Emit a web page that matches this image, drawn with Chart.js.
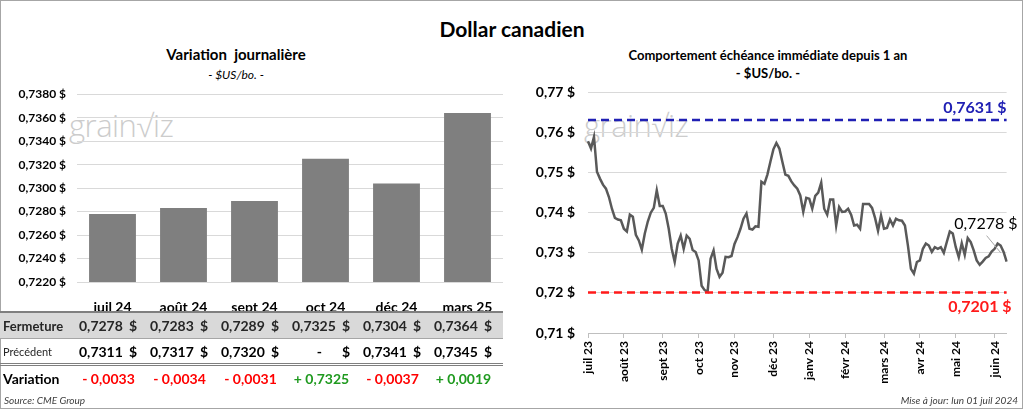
<!DOCTYPE html>
<html lang="fr">
<head>
<meta charset="utf-8">
<title>Dollar canadien</title>
<script src="https://cdn.jsdelivr.net/npm/chart.js@4.4.1/dist/chart.umd.min.js"></script>
<style>
  html, body { margin: 0; padding: 0; background: #fff; }
  body { width: 1024px; height: 410px; overflow: hidden; position: relative; font-family: Lato, "Open Sans", sans-serif; color: #000; }
  #frame { position: absolute; left: 0; top: 0; width: 1021px; height: 407px; border: 1px solid #a6a6a6; }
  .txt { position: absolute; white-space: nowrap; transform: translate(-50%, -50%); }
  .mark { position: absolute; white-space: nowrap; color: #cccccc; font-family: "Open Sans", sans-serif; font-weight: 300; font-size: 31px; letter-spacing: -0.5px; }
  canvas { position: absolute; }
  #table { position: absolute; left: 0; top: 311px; width: 503px; font-size: 14px; }
  .row { display: flex; align-items: center; }
  .row .lab { width: 77px; padding-left: 3px; box-sizing: border-box; }
  .row .cell { width: 71px; display: flex; justify-content: flex-end; box-sizing: border-box; padding-right: 11px; }
  .row .cell .num { margin-right: 6px; }
  #rowClose { border-top: 2px solid #7f7f7f; height: 25px; background: #d9d9d9; border-bottom: 1px solid #a6a6a6; font-weight: bold; color: #262626; }
  #rowClose .lab { font-size: 13px; }
  #rowPrev { height: 24px; font-weight: bold; border-bottom: 3px double #7f7f7f; }
  #rowPrev .lab { font-weight: normal; font-size: 11px; color: #262626; }
  #rowVar { height: 24px; font-weight: bold; font-size: 14px; }
  #rowVar .cell { justify-content: center; padding-right: 8px; }
  .foot { position: absolute; top: 394px; font-style: italic; font-size: 10px; color: #404040; }
</style>
</head>
<body>
<div id="frame"></div>

<div class="txt" style="left:512px; top:28px; font-size:21px; font-weight:bold;">Dollar canadien</div>
<div class="txt" style="left:236px; top:54px; font-size:15px; font-weight:bold;">Variation&nbsp; journalière</div>
<div class="txt" style="left:236px; top:74px; font-size:12px; font-style:italic;">- $US/bo. -</div>
<div class="txt" style="left:768px; top:55px; font-size:13px; font-weight:bold;">Comportement échéance immédiate depuis 1 an</div>
<div class="txt" style="left:768px; top:73px; font-size:13px; font-weight:bold;">- $US/bo. -</div>

<div class="mark" style="left:69px; top:104px;">grain√iz</div>
<div class="mark" style="left:584px; top:104px;">grain√iz</div>

<canvas id="barChart" width="512" height="237" style="left:0; top:76px;"></canvas>
<canvas id="lineChart" width="512" height="324" style="left:512px; top:71px;"></canvas>

<div id="table">
  <div class="row" id="rowClose"><div class="lab">Fermeture</div></div>
  <div class="row" id="rowPrev"><div class="lab">Précédent</div></div>
  <div class="row" id="rowVar"><div class="lab">Variation</div></div>
</div>

<div class="foot" style="left:4px;">Source: CME Group</div>
<div class="foot" style="right:6px;">Mise à jour: lun 01 juil 2024</div>

<script>
// Variation journalière (échéances)
const contracts = ['juil 24', 'août 24', 'sept 24', 'oct 24', 'déc 24', 'mars 25'];
const closeValues = [0.7278, 0.7283, 0.7289, 0.7325, 0.7304, 0.7364];
const prevValues = [0.7311, 0.7317, 0.7320, null, 0.7341, 0.7345];
const variations = [-0.0033, -0.0034, -0.0031, 0.7325, -0.0037, 0.0019];
const barAxisMin = 0.722;
const barAxisMax = 0.738;
const barAxisStep = 0.002;

// Comportement échéance immédiate depuis 1 an
const monthLabels = ['juil 23', 'août 23', 'sept 23', 'oct 23', 'nov 23', 'déc 23',
  'janv 24', 'févr 24', 'mars 24', 'avr 24', 'mai 24', 'juin 24'];
const monthStarts = [0, 12, 25, 37, 49, 62, 74, 86, 99, 111, 123, 136];
const lineValues = [
  0.7578, 0.7560, 0.7589, 0.7502, 0.7485, 0.7470, 0.7460, 0.7439, 0.7410, 0.7387,
  0.7383, 0.7381, 0.7360, 0.7353, 0.7395, 0.7390, 0.7345, 0.7331, 0.7308, 0.7348,
  0.7378, 0.7400, 0.7412, 0.7456, 0.7417, 0.7417, 0.7398, 0.7360, 0.7310, 0.7277,
  0.7323, 0.7343, 0.7310, 0.7343, 0.7335, 0.7307, 0.7302, 0.7281, 0.7218, 0.7207,
  0.7203, 0.7285, 0.7306, 0.7260, 0.7240, 0.7250, 0.7290, 0.7289, 0.7292, 0.7322,
  0.7339, 0.7360, 0.7385, 0.7398, 0.7360, 0.7358, 0.7366, 0.7365, 0.7477, 0.7472,
  0.7495, 0.7527, 0.7558, 0.7574, 0.7560, 0.7527, 0.7495, 0.7492, 0.7478, 0.7468,
  0.7460, 0.7443, 0.7402, 0.7437, 0.7435, 0.7410, 0.7442, 0.7450, 0.7475, 0.7410,
  0.7395, 0.7433, 0.7433, 0.7368, 0.7414, 0.7402, 0.7403, 0.7410, 0.7395, 0.7368,
  0.7370, 0.7360, 0.7422, 0.7422, 0.7422, 0.7412, 0.7387, 0.7355, 0.7393, 0.7360,
  0.7362, 0.7383, 0.7368, 0.7385, 0.7381, 0.7380, 0.7368, 0.7318, 0.7260, 0.7248,
  0.7277, 0.7281, 0.7310, 0.7323, 0.7318, 0.7302, 0.7314, 0.7310, 0.7314, 0.7300,
  0.7327, 0.7353, 0.7348, 0.7314, 0.7289, 0.7324, 0.7295, 0.7337, 0.7327, 0.7306,
  0.7281, 0.7270, 0.7278, 0.7287, 0.7291, 0.7303, 0.7310, 0.7323, 0.7318, 0.7302,
  0.7278
];
const yearHigh = 0.7631;
const yearLow = 0.7201;
const lineAxisMin = 0.71;
const lineAxisMax = 0.77;
const lineAxisStep = 0.01;

const FONT = 'Lato, "Open Sans", sans-serif';

function fmt(v, digits) {
  return v.toFixed(digits).replace('.', ',');
}

// Table rows
function addCells(rowId, values, render) {
  const row = document.getElementById(rowId);
  values.forEach(v => {
    const cell = document.createElement('div');
    cell.className = 'cell';
    cell.innerHTML = render(v);
    row.appendChild(cell);
  });
}

addCells('rowClose', closeValues, v => `<span class="num">${fmt(v, 4)}</span><span>$</span>`);
addCells('rowPrev', prevValues, v => v === null
  ? `<span class="num" style="margin-right:20px">-</span><span>$</span>`
  : `<span class="num">${fmt(v, 4)}</span><span>$</span>`);
addCells('rowVar', variations, v => {
  const color = v < 0 ? '#ff0000' : '#1f9a1f';
  const sign = v < 0 ? '- ' : '+ ';
  return `<span style="color:${color}">${sign}${fmt(Math.abs(v), 4)}</span>`;
});

// Bar chart
new Chart(document.getElementById('barChart'), {
  type: 'bar',
  data: {
    labels: contracts,
    datasets: [{
      data: closeValues,
      backgroundColor: '#7f7f7f',
      borderWidth: 0,
      categoryPercentage: 1,
      barPercentage: 0.66
    }]
  },
  options: {
    responsive: false,
    animation: false,
    layout: { padding: { left: 0, right: 9, top: 0, bottom: 0 } },
    plugins: { legend: { display: false }, tooltip: { enabled: false } },
    scales: {
      x: {
        grid: { display: false },
        border: { display: false },
        ticks: { color: '#000', font: { family: FONT, size: 14, weight: 'bold' }, padding: 9 },
        afterFit: s => { s.height = 31; }
      },
      y: {
        min: barAxisMin,
        max: barAxisMax,
        grid: { color: '#d9d9d9', drawTicks: false },
        border: { display: false },
        ticks: {
          stepSize: barAxisStep,
          padding: 11,
          color: '#000',
          font: { family: FONT, size: 12, weight: 'bold' },
          callback: v => fmt(v, 4) + ' $'
        },
        afterFit: s => { s.width = 77; }
      }
    }
  }
});

// Line chart
const dayLabels = lineValues.map((v, i) => {
  const k = monthStarts.indexOf(i);
  return k >= 0 ? monthLabels[k] : '';
});

const levelLines = {
  id: 'levelLines',
  afterDatasetsDraw(chart) {
    const { ctx, chartArea, scales: { x, y } } = chart;
    ctx.save();
    ctx.lineWidth = 2.5;
    ctx.setLineDash([8, 5]);
    [[yearHigh, '#2020b4'], [yearLow, '#ff1a1a']].forEach(([v, c]) => {
      const py = y.getPixelForValue(v);
      ctx.strokeStyle = c;
      ctx.beginPath();
      ctx.moveTo(chartArea.left, py);
      ctx.lineTo(chartArea.right, py);
      ctx.stroke();
    });
    ctx.setLineDash([]);
    ctx.font = 'bold 16px ' + FONT;
    ctx.textAlign = 'right';
    ctx.textBaseline = 'middle';
    ctx.fillStyle = '#2020b4';
    ctx.fillText(fmt(yearHigh, 4) + ' $', chartArea.right, y.getPixelForValue(yearHigh) - 12);
    ctx.fillStyle = '#ff1a1a';
    ctx.fillText(fmt(yearLow, 4) + ' $', chartArea.right + 5, y.getPixelForValue(yearLow) + 14);

    // last value label
    const last = lineValues.length - 1;
    const px = x.getPixelForValue(last);
    const py = y.getPixelForValue(lineValues[last]);
    ctx.strokeStyle = '#a6a6a6';
    ctx.lineWidth = 1;
    ctx.beginPath();
    ctx.moveTo(px - 20, py - 26);
    ctx.lineTo(px - 6, py - 9);
    ctx.stroke();
    ctx.fillStyle = '#000';
    ctx.font = '16px ' + FONT;
    ctx.fillText(fmt(lineValues[last], 4) + ' $', px + 11, py - 38);
    ctx.restore();
  }
};

new Chart(document.getElementById('lineChart'), {
  type: 'line',
  data: {
    labels: dayLabels,
    datasets: [{
      data: lineValues,
      borderColor: '#595959',
      borderWidth: 2.5,
      pointRadius: 0,
      tension: 0
    }]
  },
  options: {
    responsive: false,
    animation: false,
    layout: { padding: { left: 0, right: 16, top: 0, bottom: 0 } },
    plugins: { legend: { display: false }, tooltip: { enabled: false } },
    scales: {
      x: {
        offset: false,
        grid: {
          drawOnChartArea: false,
          tickLength: 5,
          color: ctx => monthStarts.includes(ctx.index) ? '#bfbfbf' : 'rgba(0,0,0,0)'
        },
        border: { display: true, color: '#bfbfbf' },
        ticks: {
          autoSkip: false,
          maxRotation: 90,
          minRotation: 90,
          padding: 3,
          color: '#000',
          font: { family: FONT, size: 12, weight: 'bold' }
        },
        afterFit: s => { s.height = 62; }
      },
      y: {
        min: lineAxisMin,
        max: lineAxisMax,
        grid: { color: '#d9d9d9', drawTicks: false },
        border: { display: false },
        ticks: {
          stepSize: lineAxisStep,
          padding: 13,
          color: '#000',
          font: { family: FONT, size: 14, weight: 'bold' },
          callback: v => fmt(v, 2) + ' $'
        },
        afterFit: s => { s.width = 76; }
      }
    }
  },
  plugins: [levelLines]
});
</script>
</body>
</html>
